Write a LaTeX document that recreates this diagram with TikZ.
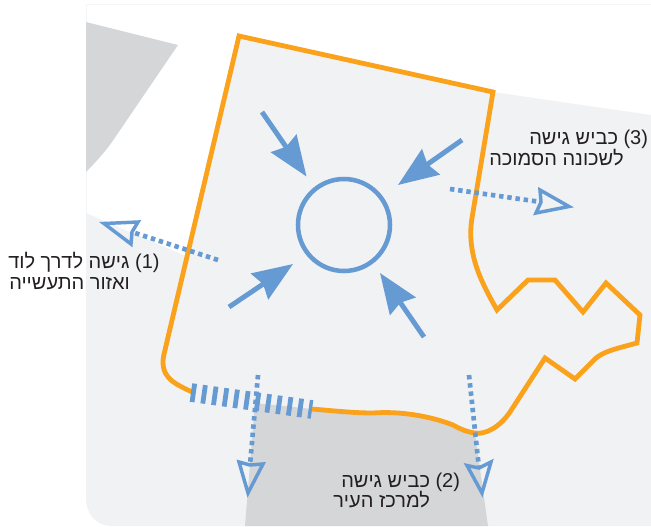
\documentclass[tikz,border=0pt]{standalone}
\usepackage{fontspec}
\usetikzlibrary{arrows.meta}
\TeXXeTstate=1
\newfontfamily\hebfont[Script=Hebrew]{Liberation Sans}
\definecolor{lightbg}{HTML}{F1F2F4}
\definecolor{darkbg}{HTML}{D5D6D8}
\definecolor{roadorange}{HTML}{FAA21B}
\definecolor{blueline}{HTML}{659AD2}
\definecolor{txt}{HTML}{231F20}
\tikzset{
  x=0.75pt,y=-0.75pt,
  border/.style={draw=roadorange,line width=3.6pt,line join=miter},
  inarrow/.style={draw=blueline,line width=3.7pt,-{Stealth[length=30pt,width=23pt,inset=3pt,fill=blueline]}},
  outline/.style={draw=blueline,line width=3.5pt,dash pattern=on 3.3pt off 2.9pt},
  outhead/.style={draw=blueline,line width=2.6pt,line join=miter,miter limit=10},
  lab/.style={anchor=base west,inner sep=0pt,text=txt,font=\hebfont\fontsize{15pt}{18pt}\selectfont},
}
\begin{document}
\begin{tikzpicture}
\useasboundingbox (0,0) rectangle (651,526);
% faint frame of the map
\draw[draw=black!4,line width=0.5pt] (86,213) -- (86,4) -- (651,4);
% light ground
\fill[lightbg] (86,213) -- (188,257) -- (239,36) -- (493,92) -- (651,115) -- (651,526)
  -- (112,526) .. controls (96,526) and (86,514) .. (86,498) -- cycle;
% dark blocks
\fill[darkbg] (86,22) -- (178,45) -- (112,142) .. controls (104,153) and (95,163) .. (86,172) -- cycle;
\fill[darkbg] (255,403) -- (312,409) .. controls (335,411) and (355,413) .. (373,413)
  .. controls (400,411) and (430,416) .. (453,425) .. controls (460,429) and (467,432) .. (475,433)
  -- (488,526) -- (245,526) -- cycle;
% boundary
\draw[border] (192,392) .. controls (178,385) and (163,380) .. (163,362) .. controls (163,358) and (164,354) .. (165,350)
  -- (239,36) -- (493,92) -- (472,218)
  .. controls (466,255) and (483,285) .. (497,310) -- (528,280) -- (555,280) -- (583,312) -- (606,283) -- (640,315) -- (637,343)
  .. controls (615,349) and (600,352) .. (592,362) -- (575,379) -- (545,358) -- (510,412)
  .. controls (500,427) and (485,435) .. (475,433) .. controls (467,432) and (460,429) .. (453,425)
  .. controls (430,416) and (400,411) .. (373,413) .. controls (355,413) and (335,411) .. (312,409);
% hatched section
\draw[draw=blueline,line width=14pt,dash pattern=on 3.6pt off 4.5pt] (191,392.5) -- (312,409.5);
% centre
\node[draw=blueline,line width=3.4pt,circle,minimum size=69pt,inner sep=0pt] (centre) at (344,225) {};
% inward arrows
\coordinate (ia1) at (262,112); \coordinate (ib1) at (306.5,176.5);
\coordinate (ia2) at (462,140); \coordinate (ib2) at (398,185);
\coordinate (ia3) at (229,307); \coordinate (ib3) at (293,264);
\coordinate (ia4) at (424,337); \coordinate (ib4) at (380,273);
\draw[inarrow] (ia1) -- (ib1);
\draw[inarrow] (ia2) -- (ib2);
\draw[inarrow] (ia3) -- (ib3);
\draw[inarrow] (ia4) -- (ib4);
% outward dotted arrows
\coordinate (oa1) at (218,260); \coordinate (ob1) at (132,232);
\coordinate (oa2) at (258,375); \coordinate (ob2) at (250,465);
\coordinate (oa3) at (469,375); \coordinate (ob3) at (479,468);
\coordinate (oa4) at (450,189); \coordinate (ob4) at (541,202);
\draw[outline] (oa1) -- (ob1);
\draw[outline] (oa2) -- (ob2);
\draw[outline] (oa3) -- (ob3);
\draw[outline] (oa4) -- (ob4);
\draw[outhead] (ob1) -- (138,222) -- (104,223.5) -- (131,244) -- cycle;
\draw[outhead] (ob2) -- (263,464) -- (248,493) -- (239,462) -- cycle;
\draw[outhead] (ob3) -- (491,462) -- (482,493) -- (467,465.5) -- cycle;
\draw[outhead] (ob4) -- (540,190) -- (569,206.5) -- (536,213) -- cycle;
% labels
\node[lab] (l1a) at (8,268.5) {\beginR גישה לדרך לוד\endR\ (1)};
\node[lab] (l1b) at (9,289.5) {\beginR ואזור התעשייה\endR};
\node[lab] (l2a) at (341,487) {\beginR כביש גישה\endR\ (2)};
\node[lab] (l2b) at (333,507.5) {\beginR למרכז העיר\endR};
\node[lab] (l3a) at (529,144) {\beginR כביש גישה\endR\ (3)};
\node[lab] (l3b) at (489,165.5) {\beginR לשכונה הסמוכה\endR};
\end{tikzpicture}
\end{document}
